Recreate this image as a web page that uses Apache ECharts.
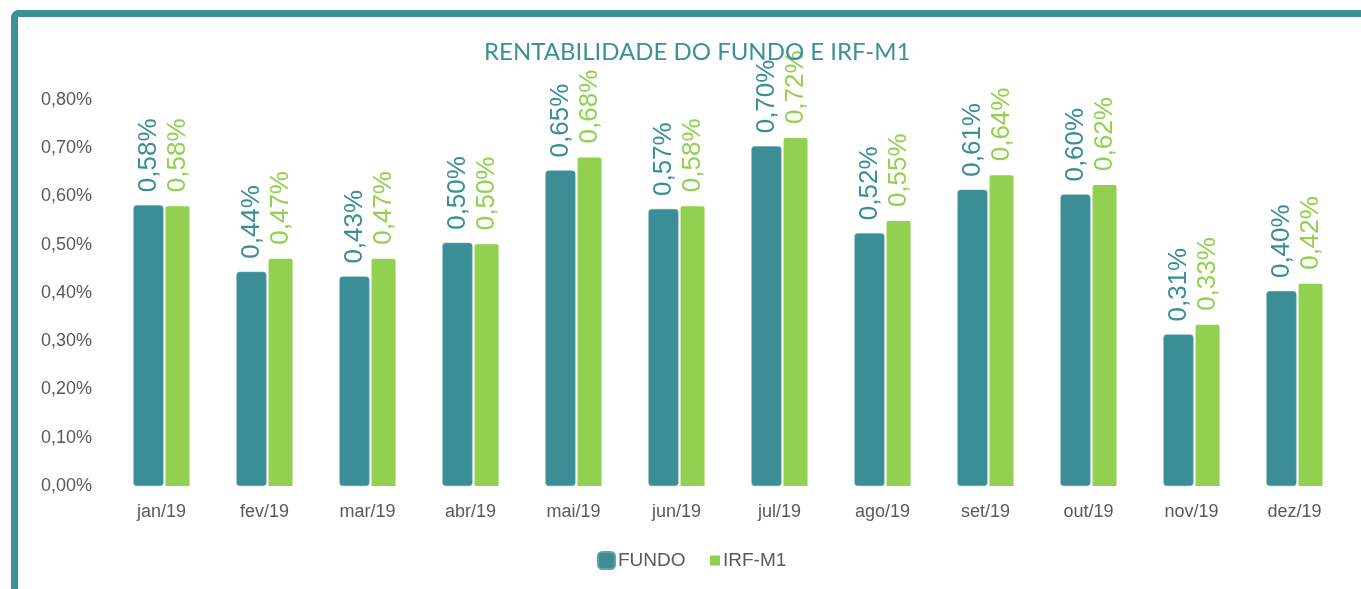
<!DOCTYPE html>
<html>
<head>
<meta charset="utf-8">
<script src="https://cdn.jsdelivr.net/npm/echarts@6/dist/echarts.min.js"></script>
<style>
  html, body { margin: 0; padding: 0; background: #fff; }
  #chart { width: 1361px; height: 589px; }
</style>
</head>
<body>
<div id="chart"></div>
<script>
// dados (em %)
const months = ['jan/19', 'fev/19', 'mar/19', 'abr/19', 'mai/19', 'jun/19',
                'jul/19', 'ago/19', 'set/19', 'out/19', 'nov/19', 'dez/19'];
const fundo = [0.582, 0.444, 0.434, 0.504, 0.654, 0.574, 0.704, 0.524, 0.614, 0.604, 0.314, 0.404];
const irfm1 = [0.580, 0.471, 0.471, 0.501, 0.681, 0.580, 0.721, 0.549, 0.644, 0.624, 0.334, 0.419];
const yTicks = [0, 0.1, 0.2, 0.3, 0.4, 0.5, 0.6, 0.7, 0.8];

const teal = '#3b8e96';
const green = '#92d050';
const grey = '#595959';

const fmt = (v, d) => v.toFixed(d).replace('.', ',') + '%';

let chartDom = document.getElementById('chart');
let myChart = echarts.init(chartDom);
let option;

option = {
    animation: false,
    title: {
        text: 'RENTABILIDADE DO FUNDO E IRF-M1',
        left: 479,
        top: 35,
        textStyle: {
            color: '#3d9096',
            fontSize: 24,
            fontWeight: 'normal',
            fontFamily: 'Lato'
        }
    },
    graphic: [{
        type: 'rect',
        shape: { x: 14.5, y: 13.5, width: 1500, height: 800, r: 4 },
        style: { fill: 'none', stroke: '#3d8f96', lineWidth: 7 },
        silent: true
    }],
    legend: [{
        data: ['FUNDO'],
        left: 592,
        top: 546,
        icon: 'roundRect',
        itemWidth: 17,
        itemHeight: 17,
        itemGap: 4,
        textStyle: { color: grey, fontSize: 19, fontFamily: 'Liberation Sans', padding: [0, 0, 0, -2] }
    }, {
        data: ['IRF-M1'],
        left: 705,
        top: 546,
        icon: 'rect',
        itemWidth: 10,
        itemHeight: 10,
        textStyle: { color: grey, fontSize: 19, fontFamily: 'Liberation Sans', padding: [0, 0, 0, -2] }
    }],
    grid: {
        left: 110,
        right: 15,
        top: 100,
        bottom: 103
    },
    xAxis: {
        type: 'category',
        data: months,
        axisLine: { show: false },
        axisTick: { show: false },
        axisLabel: {
            color: grey,
            fontSize: 18,
            fontFamily: 'Liberation Sans',
            margin: 17
        }
    },
    yAxis: {
        type: 'value',
        min: yTicks[0],
        max: yTicks[yTicks.length - 1],
        interval: 0.1,
        splitLine: { show: false },
        axisLabel: {
            color: grey,
            fontSize: 18,
            fontFamily: 'Liberation Sans',
            margin: 18,
            formatter: v => fmt(v, 2)
        }
    },
    series: [
        {
            name: 'FUNDO',
            type: 'bar',
            data: fundo,
            barWidth: 30,
            barGap: '7%',
            itemStyle: {
                color: teal,
                borderRadius: [3, 3, 3, 3],
                borderColor: '#5fa5ab',
                borderWidth: 0.5
            },
            label: {
                show: true,
                position: 'top',
                rotate: 90,
                align: 'left',
                verticalAlign: 'middle',
                distance: 13,
                color: teal,
                fontSize: 26,
                fontFamily: 'Liberation Sans',
                formatter: p => fmt(p.value, 2)
            }
        },
        {
            name: 'IRF-M1',
            type: 'bar',
            data: irfm1,
            barWidth: 24,
            itemStyle: {
                color: green,
                borderRadius: [2, 2, 0, 0]
            },
            label: {
                show: true,
                position: 'top',
                rotate: 90,
                align: 'left',
                verticalAlign: 'middle',
                distance: 14,
                color: green,
                fontSize: 26,
                fontFamily: 'Liberation Sans',
                formatter: p => fmt(p.value, 2)
            }
        }
    ]
};

option && myChart.setOption(option);
</script>
</body>
</html>
